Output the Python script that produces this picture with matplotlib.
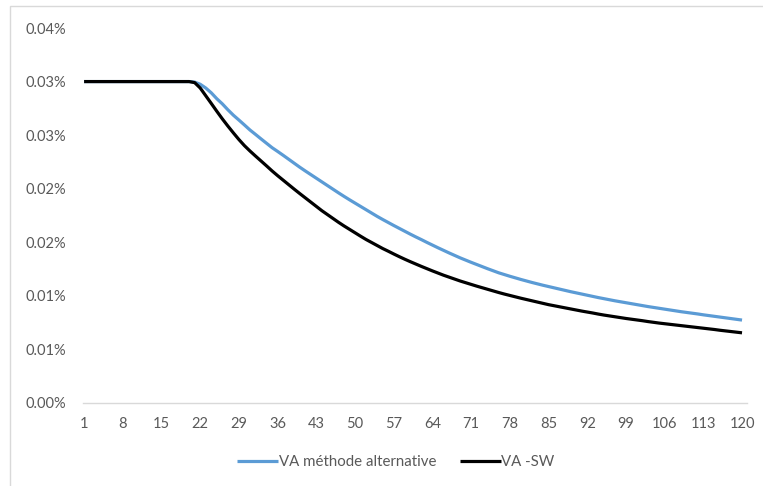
import matplotlib
matplotlib.use("Agg")
from matplotlib import pyplot as plt
from matplotlib.patches import Rectangle
from matplotlib.ticker import FuncFormatter, MultipleLocator

# maturities 1..120, values in percent
maturities = list(range(1, 121))

va_alternative = [
    0.03000, 0.03000, 0.03000, 0.03000, 0.03000, 0.03000, 0.03000, 0.03000, 0.03000, 0.03000,
    0.03000, 0.03000, 0.03000, 0.03000, 0.03000, 0.03000, 0.03000, 0.03000, 0.03000, 0.03000,
    0.02995, 0.02975, 0.02940, 0.02895, 0.02840, 0.02792, 0.02737, 0.02686, 0.02641, 0.02595,
    0.02548, 0.02507, 0.02465, 0.02424, 0.02383, 0.02348, 0.02312, 0.02275, 0.02238, 0.02201,
    0.02166, 0.02132, 0.02098, 0.02064, 0.02030, 0.01996, 0.01962, 0.01929, 0.01897, 0.01866,
    0.01835, 0.01804, 0.01773, 0.01742, 0.01713, 0.01685, 0.01657, 0.01630, 0.01603, 0.01576,
    0.01550, 0.01525, 0.01499, 0.01474, 0.01449, 0.01425, 0.01401, 0.01378, 0.01355, 0.01334,
    0.01313, 0.01293, 0.01273, 0.01253, 0.01234, 0.01215, 0.01199, 0.01183, 0.01168, 0.01153,
    0.01139, 0.01125, 0.01112, 0.01099, 0.01087, 0.01075, 0.01063, 0.01051, 0.01039, 0.01028,
    0.01017, 0.01006, 0.00995, 0.00984, 0.00974, 0.00964, 0.00954, 0.00945, 0.00936, 0.00927,
    0.00918, 0.00909, 0.00900, 0.00892, 0.00884, 0.00876, 0.00868, 0.00860, 0.00852, 0.00845,
    0.00838, 0.00831, 0.00823, 0.00816, 0.00809, 0.00802, 0.00795, 0.00788, 0.00781, 0.00774,
]

va_sw = [
    0.03000, 0.03000, 0.03000, 0.03000, 0.03000, 0.03000, 0.03000, 0.03000, 0.03000, 0.03000,
    0.03000, 0.03000, 0.03000, 0.03000, 0.03000, 0.03000, 0.03000, 0.03000, 0.03000, 0.03000,
    0.02990, 0.02940, 0.02868, 0.02796, 0.02723, 0.02652, 0.02585, 0.02521, 0.02459, 0.02402,
    0.02352, 0.02305, 0.02259, 0.02213, 0.02166, 0.02122, 0.02080, 0.02038, 0.01996, 0.01955,
    0.01915, 0.01875, 0.01835, 0.01795, 0.01759, 0.01723, 0.01687, 0.01653, 0.01621, 0.01589,
    0.01557, 0.01526, 0.01498, 0.01470, 0.01442, 0.01417, 0.01391, 0.01366, 0.01342, 0.01319,
    0.01297, 0.01275, 0.01254, 0.01233, 0.01213, 0.01193, 0.01175, 0.01157, 0.01139, 0.01123,
    0.01107, 0.01091, 0.01076, 0.01061, 0.01046, 0.01031, 0.01017, 0.01004, 0.00991, 0.00978,
    0.00966, 0.00954, 0.00942, 0.00930, 0.00918, 0.00908, 0.00898, 0.00888, 0.00878, 0.00868,
    0.00858, 0.00849, 0.00840, 0.00830, 0.00821, 0.00813, 0.00805, 0.00797, 0.00789, 0.00782,
    0.00775, 0.00768, 0.00760, 0.00753, 0.00746, 0.00740, 0.00734, 0.00728, 0.00722, 0.00716,
    0.00710, 0.00704, 0.00698, 0.00692, 0.00686, 0.00679, 0.00673, 0.00667, 0.00661, 0.00655,
]

series_labels = ["VA méthode alternative", "VA -SW"]
x_tick_labels = maturities[::7]

W, H = 763, 486
plt.rcParams['font.family'] = ['Lato', 'DejaVu Sans']
text_color = '#595959'

fig = plt.figure(figsize=(W / 100, H / 100), dpi=100)
ax = fig.add_axes([83 / W, 1 - 403 / H, (747 - 83) / W, (403 - 28) / H])

ax.plot(maturities, va_alternative, color='#5B9BD5', lw=2.3, label=series_labels[0],
        solid_capstyle='butt')
ax.plot(maturities, va_sw, color='black', lw=2.3, label=series_labels[1],
        solid_capstyle='butt')

ax.set_xlim(0.8, 120.9)
ax.set_ylim(0, 0.035)
ax.yaxis.set_major_locator(MultipleLocator(0.005))
ax.yaxis.set_major_formatter(FuncFormatter(lambda v, pos: f"{v + 1e-9:.2f}%"))
ax.set_xticks(x_tick_labels)
ax.set_xticklabels([str(m) for m in x_tick_labels])

for side in ['top', 'right', 'left']:
    ax.spines[side].set_visible(False)
ax.spines['bottom'].set_color('#d9d9d9')
ax.spines['bottom'].set_linewidth(1)
ax.tick_params(axis='both', length=0, labelsize=10.5, colors=text_color)
ax.tick_params(axis='y', pad=12)
ax.tick_params(axis='x', pad=10)

fig.legend(loc='center', bbox_to_anchor=(396 / W, 1 - 462 / H), ncol=2, frameon=False,
           fontsize=10.8, labelcolor=text_color, handlelength=2.7, handletextpad=0.05,
           columnspacing=1.6)

# chart area border
fig.add_artist(Rectangle((10 / W, -0.1), 1.0, 1.1 - 6.5 / H, transform=fig.transFigure,
                         fill=False, edgecolor='#d9d9d9', lw=1))

fig.savefig('out.png', dpi=100)
